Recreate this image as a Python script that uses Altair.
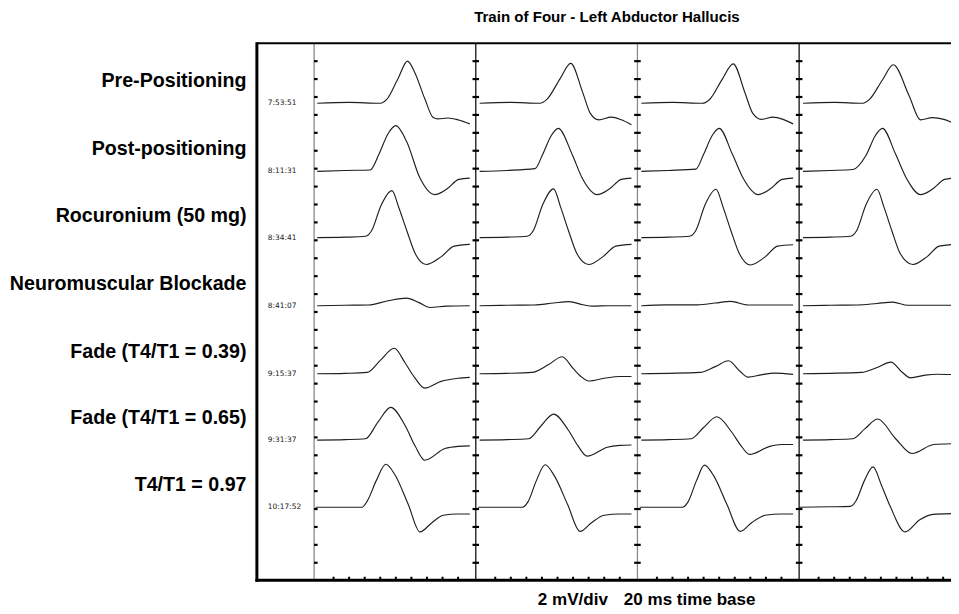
import altair as alt
import pandas as pd

# ---------------- data ----------------
TITLE = "Train of Four - Left Abductor Hallucis"
FOOT_LEFT = "2 mV/div"
FOOT_RIGHT = "20 ms time base"
ROW_LABELS = ["Pre-Positioning", "Post-positioning", "Rocuronium (50 mg)",
              "Neuromuscular Blockade", "Fade (T4/T1 = 0.39)",
              "Fade (T4/T1 = 0.65)", "T4/T1 = 0.97"]
TIMESTAMPS = ["7:53:51", "8:11:31", "8:34:41", "8:41:07", "9:15:37", "9:31:37", "10:17:52"]
ROW_BASELINE_MV = [53.3, 45.7, 38.3, 30.7, 23.1, 15.7, 8.2]

PANEL_WIDTH_MS = 20.77
N_PANELS = 4
X_MIN_MS = -7.35
X_MAX_MS = 81.82
Y_MAX_MV = 60
MV_PER_DIV = 2
BOTTOM_TICK_MS = [2.5, 4.5, 6.5, 8.5, 10.5, 12.5, 14.5, 16.5, 18.5]

# each trace: local time (ms) and deflection from baseline (mV), 4 panels per row
PRE_T = [[0.4, 4.5, 8.5, 9.3, 10.8, 12.0, 12.9, 14.2, 15.3, 15.9, 17.2, 18.5, 20.0],
         [0.5, 4.5, 8.2, 9.2, 10.8, 12.2, 13.7, 14.7, 15.8, 17.4, 18.7, 20.0],
         [0.5, 4.5, 8.3, 9.3, 10.9, 12.3, 13.8, 14.8, 15.9, 17.4, 18.7, 20.0],
         [0.5, 4.5, 8.2, 9.0, 10.7, 12.1, 14.1, 15.6, 17.1, 18.6, 20.0]]
PRE_V = [[0, 0.1, 0, 0.4, 2.8, 4.7, 3.5, 0.55, -1.6, -1.75, -1.65, -1.85, -2.3],
         [0, 0.1, 0, 0.5, 2.7, 4.45, 1.3, -1.1, -1.85, -1.55, -1.85, -2.4],
         [0, 0.1, 0, 0.45, 2.7, 4.4, 1.2, -1.1, -1.8, -1.55, -1.8, -2.3],
         [0, 0.1, 0, 0.4, 2.6, 4.3, 0.9, -1.85, -1.6, -1.8, -2.3]]

POST_T = [[0.4, 4.0, 7.2, 8.3, 9.5, 10.5, 11.9, 13.6, 15.5, 17.0, 18.6, 20.0],
          [0.5, 4.0, 7.6, 8.6, 9.7, 10.6, 12.4, 13.7, 15.6, 17.1, 18.7, 20.0],
          [0.5, 4.0, 7.5, 8.5, 9.6, 10.5, 12.2, 13.6, 15.5, 17.0, 18.6, 20.0],
          [0.5, 4.0, 6.9, 8.6, 9.8, 10.7, 12.4, 13.8, 15.6, 17.1, 18.7, 20.0]]
POST_V = [[0, 0.1, 0.15, 1.85, 4.2, 5.1, 3.3, -0.75, -2.6, -2.0, -0.9, -0.75],
          [0, 0.1, 0.3, 1.9, 4.0, 4.8, 1.85, -0.8, -2.6, -2.0, -0.9, -0.75],
          [0, 0.1, 0.25, 1.9, 4.0, 4.8, 1.9, -0.8, -2.6, -2.0, -0.9, -0.75],
          [0, 0.1, 0.2, 1.8, 4.0, 4.8, 1.9, -0.8, -2.6, -2.0, -0.9, -0.75]]

ROC_T = [[0.4, 4.0, 6.6, 7.4, 8.6, 10.0, 10.9, 11.9, 13.0, 14.4, 16.3, 18.0, 20.0],
         [0.5, 4.0, 6.6, 7.4, 8.6, 10.0, 10.9, 11.9, 13.0, 14.5, 16.3, 18.0, 20.0],
         [0.5, 4.0, 6.7, 7.5, 8.7, 10.1, 11.0, 12.0, 13.1, 14.5, 16.4, 18.0, 20.0],
         [0.5, 4.0, 6.6, 7.4, 8.6, 10.0, 10.9, 11.9, 13.0, 14.6, 16.4, 18.0, 20.0]]
ROC_V = [[0, 0.05, 0.15, 0.8, 3.6, 5.25, 3.3, 0.8, -1.8, -3.0, -2.15, -0.95, -0.75],
         [0, 0.05, 0.15, 0.8, 3.7, 5.45, 3.4, 0.8, -1.8, -3.0, -2.15, -0.95, -0.75],
         [0, 0.05, 0.15, 0.8, 3.7, 5.4, 3.4, 0.8, -1.8, -3.05, -2.15, -0.95, -0.8],
         [0, 0.05, 0.15, 0.8, 3.7, 5.4, 3.4, 0.8, -1.8, -3.0, -2.15, -0.95, -0.75]]

NMB_T = [[0.4, 4.0, 7.0, 9.5, 11.9, 13.4, 14.9, 17.0, 20.0],
         [0.5, 4.0, 7.5, 10.0, 12.0, 13.8, 15.0, 17.0, 20.0],
         [0.5, 3.7, 7.7, 10.0, 12.0, 14.2, 17.0, 20.0],
         [0.5, 4.0, 7.5, 10.0, 12.0, 14.0, 17.0, 20.0]]
NMB_V = [[0, 0.05, 0.08, 0.55, 0.85, 0.37, -0.2, -0.05, 0],
         [0, 0.05, 0.08, 0.3, 0.45, 0.1, -0.05, 0, 0],
         [0, 0.1, 0.1, 0.3, 0.48, 0.08, 0.08, 0.08],
         [0, 0.05, 0.08, 0.25, 0.4, 0.05, 0.05, 0.05]]

F39_T = [[0.4, 4.0, 6.8, 8.5, 10.3, 11.7, 12.9, 14.2, 16.3, 18.5, 20.0],
         [0.5, 4.0, 7.2, 9.3, 11.1, 12.5, 13.5, 14.5, 16.5, 18.5, 20.0],
         [0.5, 4.0, 8.0, 10.0, 11.7, 13.2, 14.2, 16.0, 17.6, 20.0],
         [0.5, 4.0, 8.0, 10.0, 11.8, 13.2, 14.3, 16.2, 17.8, 20.0]]
F39_V = [[0, 0.05, 0.15, 1.5, 2.85, 1.2, -0.4, -1.6, -0.85, -0.5, -0.4],
         [0, 0.05, 0.15, 1.0, 1.9, 0.6, -0.3, -0.8, -0.5, -0.3, -0.3],
         [0, 0.05, 0.15, 0.8, 1.45, 0.25, -0.37, -0.1, 0.07, -0.07],
         [0, 0.05, 0.15, 0.7, 1.3, 0.2, -0.45, -0.15, -0.05, -0.1]]

F65_T = [[0.4, 4.0, 6.6, 8.2, 9.85, 11.7, 13.0, 14.2, 16.8, 18.5, 20.0],
         [0.5, 4.0, 6.8, 8.4, 10.0, 11.9, 13.1, 14.3, 16.9, 18.5, 20.0],
         [0.5, 4.0, 6.9, 8.5, 10.2, 12.1, 13.2, 14.4, 17.0, 18.5, 20.0],
         [0.5, 4.0, 6.9, 8.5, 10.1, 12.4, 14.5, 17.3, 20.0]]
F65_V = [[0, 0.05, 0.15, 2.0, 3.65, 1.6, -0.7, -2.25, -0.95, -0.7, -0.65],
         [0, 0.05, 0.15, 1.6, 2.9, 1.1, -0.6, -1.8, -0.8, -0.6, -0.55],
         [0, 0.05, 0.15, 1.4, 2.6, 0.9, -0.5, -1.6, -0.7, -0.5, -0.5],
         [0, 0.05, 0.15, 1.3, 2.35, 0.15, -1.5, -0.5, -0.4]]

F97_T = [[0.2, 4.0, 6.15, 6.8, 8.0, 9.2, 10.4, 12.1, 13.6, 15.1, 16.6, 18.5, 20.0],
         [0.3, 4.0, 6.0, 6.7, 7.8, 8.9, 10.1, 11.8, 13.4, 14.9, 16.5, 18.5, 20.0],
         [0.3, 4.0, 5.8, 6.5, 7.6, 8.6, 9.8, 11.5, 13.2, 14.7, 16.4, 18.5, 20.0],
         [0.0, 4.0, 6.6, 7.3, 8.4, 9.5, 10.6, 11.7, 13.6, 15.5, 17.2, 20.0]]
F97_V = [[0, 0, 0, 0.65, 3.0, 4.8, 3.6, 0.3, -2.75, -1.75, -0.9, -0.75, -0.75],
         [0, 0, 0, 0.6, 3.0, 4.75, 3.5, 0.3, -2.7, -1.7, -0.9, -0.75, -0.75],
         [0, 0, 0, 0.6, 3.0, 4.7, 3.5, 0.3, -2.7, -1.7, -0.9, -0.75, -0.75],
         [0, 0.05, 0.1, 0.7, 3.0, 4.5, 2.4, 0.1, -2.75, -1.4, -0.8, -0.7]]

TRACES_T = [PRE_T, POST_T, ROC_T, NMB_T, F39_T, F65_T, F97_T]
TRACES_V = [PRE_V, POST_V, ROC_V, NMB_V, F39_V, F65_V, F97_V]

# ---------------- tables ----------------
rows = []
for r, (tt, vv) in enumerate(zip(TRACES_T, TRACES_V)):
    for p in range(N_PANELS):
        for i, (t, v) in enumerate(zip(tt[p], vv[p])):
            rows.append({"trace": f"{r}-{p}", "order": i,
                         "x": p * PANEL_WIDTH_MS + t,
                         "y": ROW_BASELINE_MV[r] + v})
trace_df = pd.DataFrame(rows)

dividers = pd.DataFrame({"x": [p * PANEL_WIDTH_MS for p in range(N_PANELS)],
                         "col": ["#8a8a8a", "#111111", "#8a8a8a", "#111111"]})
div_levels = list(range(MV_PER_DIV, Y_MAX_MV, MV_PER_DIV))
tick_rows = []
for p in range(N_PANELS):
    d = p * PANEL_WIDTH_MS
    for lv in div_levels:
        if p == 0:
            tick_rows.append({"x": d, "x2": d + 0.45, "y": lv})
        else:
            tick_rows.append({"x": d - 0.42, "x2": d + 0.42, "y": lv})
vticks = pd.DataFrame(tick_rows)
bticks = pd.DataFrame({"x": [p * PANEL_WIDTH_MS + t for p in range(N_PANELS) for t in BOTTOM_TICK_MS]})
labels_df = pd.DataFrame({"label": ROW_LABELS, "time": TIMESTAMPS, "base": ROW_BASELINE_MV})

xs = alt.Scale(domain=[X_MIN_MS, X_MAX_MS], nice=False, zero=False)
ys = alt.Scale(domain=[0, Y_MAX_MV], nice=False, zero=False)

def X(f="x"):
    return alt.X(f"{f}:Q", scale=xs, axis=None)

def Y(f="y"):
    return alt.Y(f"{f}:Q", scale=ys, axis=None)

traces = alt.Chart(trace_df).mark_line(
    interpolate="monotone", color="#1e1e1e", strokeWidth=1.15
).encode(x=X(), y=Y(), detail="trace:N", order="order:Q")

div_lines = alt.Chart(dividers).mark_rule(strokeWidth=1.3).encode(
    x=X(), y=alt.value(0), y2=alt.value(542),
    color=alt.Color("col:N", scale=None))

div_ticks = alt.Chart(vticks).mark_rule(color="#000", strokeWidth=2.2).encode(
    x=X(), x2="x2:Q", y=Y())

bottom_ticks = alt.Chart(bticks).mark_rule(color="#000", strokeWidth=2).encode(
    x=X(), y=alt.value(538), y2=alt.value(542))

frame_top = alt.Chart(labels_df.head(1)).mark_rule(color="#000", strokeWidth=2).encode(
    x=alt.value(0), x2=alt.value(700), y=alt.value(0))
frame_bottom = alt.Chart(labels_df.head(1)).mark_rule(color="#000", strokeWidth=3).encode(
    x=alt.value(-1.5), x2=alt.value(700), y=alt.value(541.5))
frame_left = alt.Chart(labels_df.head(1)).mark_rule(color="#000", strokeWidth=3).encode(
    x=alt.value(0), y=alt.value(-1), y2=alt.value(543))

row_labels = alt.Chart(labels_df).mark_text(
    align="right", baseline="middle", dy=-22, font="Liberation Sans",
    fontSize=19.8, fontWeight="bold", color="#000"
).encode(x=alt.value(-10.5), y=Y("base"), text="label:N")

stamps = alt.Chart(labels_df).mark_text(
    align="left", baseline="middle", font="DejaVu Sans", fontSize=7.5, color="#222"
).encode(x=alt.value(11), y=Y("base"), text="time:N")

title = alt.Chart(labels_df.head(1)).mark_text(
    align="center", baseline="middle", font="Liberation Sans",
    fontSize=15.2, fontWeight="bold", color="#000"
).encode(x=alt.value(353), y=alt.value(-26), text=alt.value(TITLE))

foot_l = alt.Chart(labels_df.head(1)).mark_text(
    align="right", baseline="alphabetic", font="Liberation Sans",
    fontSize=17.2, fontWeight="bold", color="#000"
).encode(x=alt.value(354), y=alt.value(567), text=alt.value(FOOT_LEFT))

foot_r = alt.Chart(labels_df.head(1)).mark_text(
    align="left", baseline="alphabetic", font="Liberation Sans",
    fontSize=17.2, fontWeight="bold", color="#000"
).encode(x=alt.value(370), y=alt.value(567), text=alt.value(FOOT_RIGHT))

chart = alt.layer(
    div_lines, div_ticks, bottom_ticks, traces,
    frame_top, frame_bottom, frame_left,
    row_labels, stamps, title, foot_l, foot_r
).properties(
    width=700, height=542,
    padding={"left": 251, "top": 33, "right": 0, "bottom": 27},
    autosize=alt.AutoSizeParams(type="none"),
    background="white",
).configure_view(stroke=None)

chart.save("out.html", embed_options={"renderer": "svg", "actions": False})
